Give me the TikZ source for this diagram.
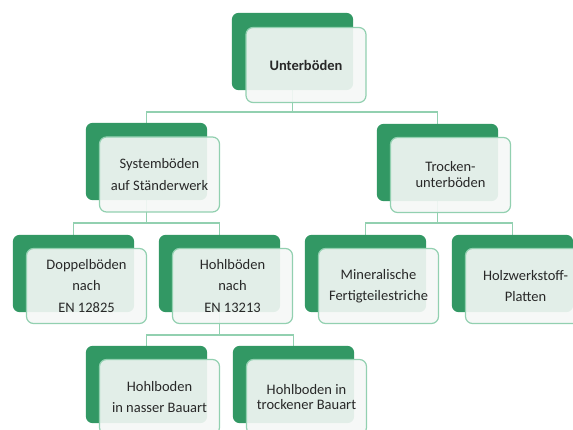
\documentclass[tikz,border=0pt]{standalone}
\usepackage{fontspec}
\setmainfont{Carlito}
\definecolor{backgreen}{RGB}{50,152,100}
\definecolor{linegreen}{RGB}{146,208,176}
\definecolor{frontfill}{RGB}{246,248,247}
\definecolor{textgray}{RGB}{40,40,40}

\begin{document}
\begin{tikzpicture}[x=1pt,y=-1pt,
	back/.style={minimum width=121pt, minimum height=77pt, inner sep=0pt},
	backfill/.style={fill=backgreen, rounded corners=7pt},
	front/.style={draw=linegreen, line width=1.2pt, fill=frontfill, fill opacity=0.9, text opacity=1, rounded corners=7pt, minimum width=120pt, minimum height=75pt, inner sep=0pt, align=center, text=textgray, font=\fontsize{14.5}{21.5}\selectfont},
	conn/.style={draw=linegreen, line width=1.4pt}]
	\clip (0,0) rectangle (573,430);
	\fill[white] (0,0) rectangle (573,430);
	%forks
	\coordinate (forka) at (292.5,112);
	\coordinate (forkb) at (146.5,223);
	\coordinate (forkc) at (219.5,335);
	\coordinate (forkd) at (437.5,223);
	%green back boxes
	\node[back] (topg) at (292.5,51.5) {};
	\node[back] (sysg) at (146.5,161.5) {};
	\node[back] (trockg) at (437.5,162.5) {};
	\node[back] (doppelg) at (73.5,273.5) {};
	\node[back] (hohlg) at (219.5,273.5) {};
	\node[back] (minerg) at (365.5,273.5) {};
	\node[back] (holzg) at (512.5,273.5) {};
	\node[back] (nassg) at (146.5,384.5) {};
	\node[back] (trbaug) at (293.5,384.5) {};
	%connectors
	\draw[conn] (topg.south) -- (forka);
	\draw[conn] (sysg.north) |- (forka) -| (trockg.north);
	\draw[conn] (sysg.south) -- (forkb);
	\draw[conn] (doppelg.north) |- (forkb) -| (hohlg.north);
	\draw[conn] (trockg.south) -- (forkd);
	\draw[conn] (minerg.north) |- (forkd) -| (holzg.north);
	\draw[conn] (hohlg.south) -- (forkc);
	\draw[conn] (nassg.north) |- (forkc) -| (trbaug.north);
	%fill the green boxes above the connectors
	\fill[backfill] (topg.north west) rectangle (topg.south east);
	\fill[backfill] (sysg.north west) rectangle (sysg.south east);
	\fill[backfill] (trockg.north west) rectangle (trockg.south east);
	\fill[backfill] (doppelg.north west) rectangle (doppelg.south east);
	\fill[backfill] (hohlg.north west) rectangle (hohlg.south east);
	\fill[backfill] (minerg.north west) rectangle (minerg.south east);
	\fill[backfill] (holzg.north west) rectangle (holzg.south east);
	\fill[backfill] (nassg.north west) rectangle (nassg.south east);
	\fill[backfill] (trbaug.north west) rectangle (trbaug.south east);
	%front boxes
	\node[front] (top) at (306,65) {\textbf{Unterböden}};
	\node[front] (sys) at (159.5,174.5) {Systemböden\\auf Ständerwerk};
	\node[front, font=\fontsize{14.5}{16}\selectfont] (trock) at (450.5,175) {Trocken-\\unterböden};
	\node[front] (doppel) at (86.5,286) {Doppelböden\\nach\\EN 12825};
	\node[front] (hohl) at (232.5,286) {Hohlböden\\nach\\EN 13213};
	\node[front] (miner) at (378.5,286) {Mineralische\\Fertigteilestriche};
	\node[front] (holz) at (525.5,286) {Holzwerkstoff-\\Platten};
	\node[front] (nass) at (159.5,397) {Hohlboden\\in nasser Bauart};
	\node[front, font=\fontsize{14.5}{15}\selectfont] (trbau) at (306.5,397) {Hohlboden in\\trockener Bauart};
\end{tikzpicture}
\end{document}
